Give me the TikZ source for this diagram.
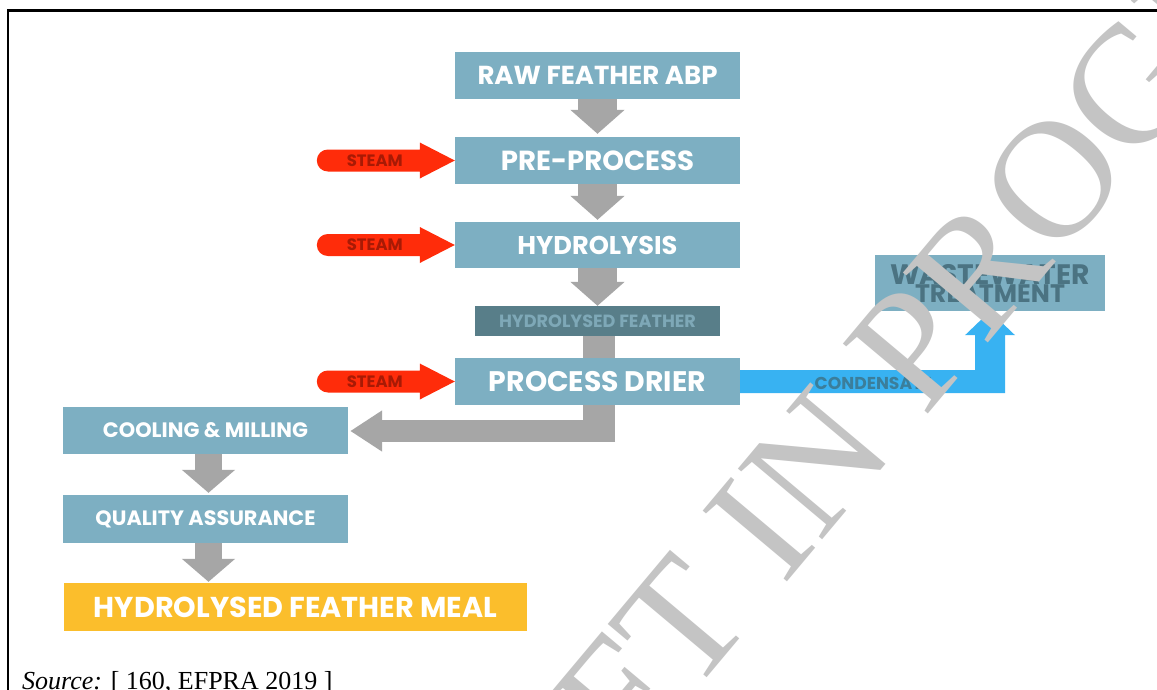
\documentclass[tikz,border=0pt]{standalone}
\usepackage{fontspec}
\setmainfont{Liberation Serif}
\newfontfamily\pop{Poppins}
\usepackage{graphicx}
\usetikzlibrary{calc,arrows.meta}
\definecolor{boxblue}{HTML}{7DAFC2}
\definecolor{darkbox}{HTML}{587E89}
\definecolor{darkboxtext}{HTML}{7EA8B7}
\definecolor{mealyellow}{HTML}{FBBE2C}
\definecolor{arrowgray}{HTML}{A6A6A6}
\definecolor{steamred}{HTML}{FF2C0A}
\definecolor{steamtext}{HTML}{A81A05}
\definecolor{condblue}{HTML}{38B2F2}
\definecolor{condtext}{HTML}{3B7E9B}
\definecolor{wastetext}{HTML}{4B7382}
\definecolor{wmgray}{HTML}{C4C4C4}
\newcommand\fitw[2]{\resizebox{#1}{!}{#2}}
\tikzset{
  procbox/.style={rectangle, fill=boxblue, inner sep=0pt, text=white, font=\pop\bfseries},
  garrow/.style={draw=arrowgray, line width=39pt, -{Triangle[width=53pt,length=24pt]}},
  sarrow/.style={draw=arrowgray, line width=27pt, -{Triangle[width=52pt,length=23pt]}},
  steamtxt/.style={text=steamtext, font=\pop\bfseries, inner sep=0pt},
}
\newcommand\steamarrow[2]{%
  \fill[steamred] ($(#1.west)+(-35,-11)$) -- ($(#1.west)+(-127,-11)$)
    arc[start angle=-90, end angle=-270, radius=11]
    -- ($(#1.west)+(-35,11)$) -- ($(#1.west)+(-35,18)$) -- (#1.west)
    -- ($(#1.west)+(-35,-18)$) -- cycle;
  \node[steamtxt] (#2) at ($(#1.west)+(-80,0)$) {\fitw{56pt}{STEAM}};}
\begin{document}
\begin{tikzpicture}[x=1pt,y=-1pt]
\useasboundingbox (0,0) rectangle (1157,689);
\begin{scope}
\clip (0,0) rectangle (1157,689);
\fill[white] (0,0) rectangle (1157,689);
\draw[line width=2.4pt] (8,720) -- (8,10.5) -- (1180,10.5);

% process boxes
\node[procbox, minimum width=285pt, minimum height=47pt] (raw) at (597.5,75.5) {\fitw{240pt}{RAW FEATHER ABP}};
\node[procbox, minimum width=285pt, minimum height=47pt] (pre) at (597.5,160.5) {\fitw{193pt}{PRE-PROCESS}};
\node[procbox, minimum width=285pt, minimum height=46pt] (hyd) at (597.5,245) {\fitw{160pt}{HYDROLYSIS}};
\node[procbox, fill=darkbox, text=darkboxtext, minimum width=245pt, minimum height=30pt] (hf) at (597.5,321) {\fitw{197pt}{HYDROLYSED FEATHER}};
\node[procbox, minimum width=285pt, minimum height=47pt] (drier) at (597.5,381.5) {\fitw{217pt}{PROCESS DRIER}};
\node[procbox, minimum width=285pt, minimum height=47pt] (cool) at (205.5,430.5) {\fitw{205pt}{COOLING \& MILLING}};
\node[procbox, minimum width=285pt, minimum height=48pt] (qa) at (205.5,519) {\fitw{220pt}{QUALITY ASSURANCE}};
\node[procbox, fill=mealyellow, minimum width=463pt, minimum height=48pt] (meal) at (295.5,607) {\fitw{403pt}{HYDROLYSED FEATHER MEAL}};
\node[procbox, text=wastetext, minimum width=230pt, minimum height=56pt, align=center, font=\pop\bfseries\fontsize{17}{20}\selectfont] (waste) at (990,283) {\fitw{200pt}{WASTEWATER}\\[-2pt]\fitw{150pt}{TREATMENT}};

% gray flow arrows
\draw[garrow] (raw.south) -- ($(pre.north)+(0,-3)$);
\draw[garrow] (pre.south) -- ($(hyd.north)+(0,-2)$);
\draw[garrow] (hyd.south) -- (hf.north);
\draw[draw=arrowgray, line width=32pt] ($(hf.south)+(1.5,0)$) -- ($(drier.north)+(1.5,0)$);
\fill[arrowgray] ($(drier.south)+(-14.5,0)$) rectangle ($(drier.south)+(17.5,37)$);
\draw[draw=arrowgray, line width=22pt, -{Triangle[width=39pt,length=32pt]}]
  ($(drier.south |- cool.east)+(17.5,0.5)$) -- ($(cool.east)+(2,0.5)$);
\draw[sarrow] ($(cool.south)+(3,0)$) -- ($(qa.north)+(3,-2)$);
\draw[sarrow] ($(qa.south)+(3,0)$) -- ($(meal.north |- meal.north)+(-87,-1)$);

% steam arrows
\steamarrow{pre}{s1}
\steamarrow{hyd}{s2}
\steamarrow{drier}{s3}

% condensate arrow
\fill[condblue] ($(drier.east)+(0,-11.5)$) -- ($(waste.south |- drier.east)+(-15,-11.5)$)
  -- ($(waste.south)+(-15,24)$) -- ($(waste.south)+(-25,24)$) -- (waste.south)
  -- ($(waste.south)+(25,24)$) -- ($(waste.south)+(15,24)$)
  -- ($(waste.south |- drier.east)+(15,11.5)$) -- ($(drier.east)+(0,11.5)$) -- cycle;
\node[text=condtext, font=\pop\bfseries, inner sep=0pt] (cond) at ($(drier.east)+(133,1.5)$) {\fitw{117pt}{CONDENSATE}};

% source
\node[anchor=base west, inner sep=0pt, font=\fontsize{26}{30}\selectfont] (src) at (22,689) {\textit{Source:} [ 160, EFPRA 2019 ]};

% watermark
\node[rotate=50, anchor=base west, inner sep=0pt, text=wmgray, font=\fontsize{168}{168}\selectfont] (wm) at (402,1041)
  {DRAFT IN PROGRESS};
\end{scope}
\end{tikzpicture}
\end{document}
